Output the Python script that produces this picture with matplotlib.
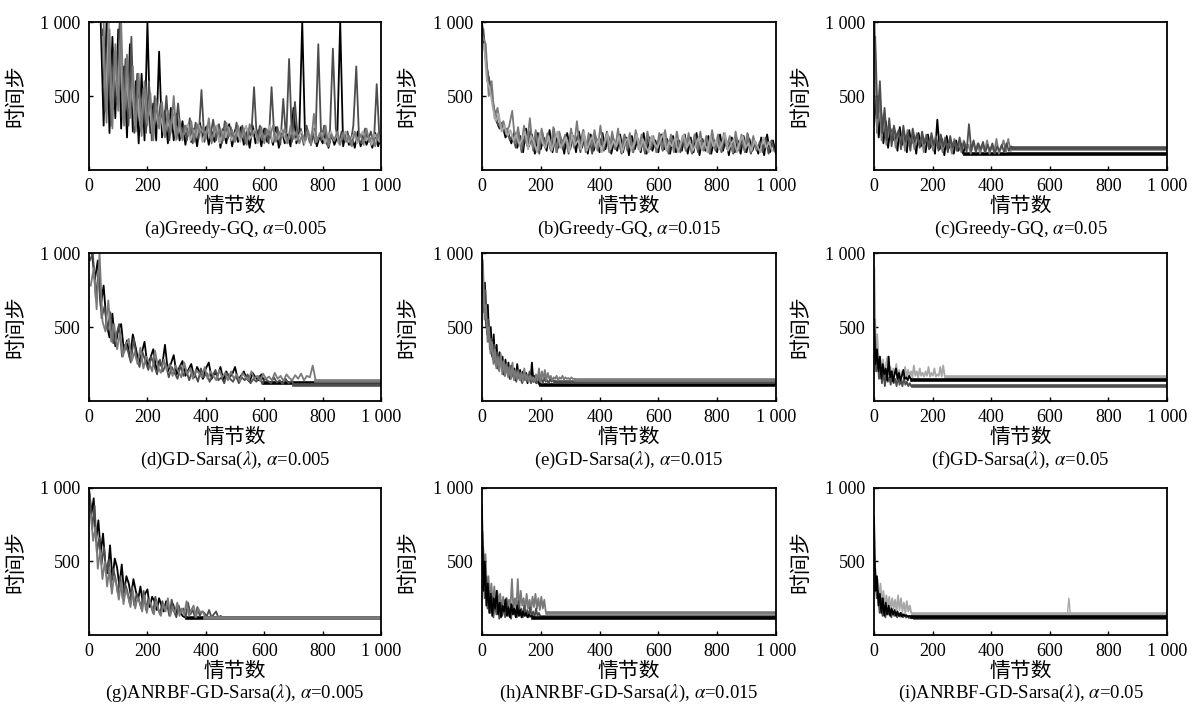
import numpy as np
import matplotlib
matplotlib.use("Agg")
import matplotlib.pyplot as plt

plt.rcParams['font.family'] = ['Liberation Serif', 'Noto Sans CJK SC']
plt.rcParams['mathtext.fontset'] = 'stix'

xticks = [0, 200, 400, 600, 800, 1000]
xtick_labels = ['0', '200', '400', '600', '800', '1 000']
yticks = [500, 1000]
ytick_labels = ['500', '1 000']
xlabel = '情节数'
ylabel = '时间步'
titles = ['(a)Greedy-GQ, $\\alpha$=0.005', '(b)Greedy-GQ, $\\alpha$=0.015', '(c)Greedy-GQ, $\\alpha$=0.05',
          '(d)GD-Sarsa($\\lambda$), $\\alpha$=0.005', '(e)GD-Sarsa($\\lambda$), $\\alpha$=0.015',
          '(f)GD-Sarsa($\\lambda$), $\\alpha$=0.05',
          '(g)ANRBF-GD-Sarsa($\\lambda$), $\\alpha$=0.005', '(h)ANRBF-GD-Sarsa($\\lambda$), $\\alpha$=0.015',
          '(i)ANRBF-GD-Sarsa($\\lambda$), $\\alpha$=0.05']

# (a) Greedy-GQ, alpha=0.005 -- time steps per episode
a_black = [1000, 300, 1000, 250, 900, 350, 950, 280, 700, 220, 850, 260, 600,
           180, 650, 200, 1000, 250, 450, 200, 800, 220, 400, 180, 420, 200, 380,
           200, 330, 170, 300, 190, 280, 160, 320, 200, 290, 170, 260, 190, 300, 150, 280, 180, 310, 160, 270,
           190, 290, 170, 260, 150, 300, 180, 270, 160, 280, 190, 250, 170, 290, 150, 270, 180, 240, 160, 420,
           180, 260, 1000, 200, 250, 170, 280, 160, 230, 180, 260, 150, 240, 170, 220, 1000, 160, 250, 170, 230,
           150, 260, 160, 240, 170, 220, 150, 250, 160, 230]
a_dark = [950, 400, 1000, 300, 800, 450, 1000, 350, 750, 300, 900, 250, 650,
          300, 550, 250, 600, 200, 500, 300, 450, 250, 500, 200, 400, 250, 450,
          220, 300, 200, 350, 180, 320, 210, 540, 190, 300, 220, 340, 200, 310, 180, 330, 210, 290, 190, 320,
          200, 300, 180, 280, 210, 560, 190, 300, 200, 280, 180, 560, 200, 290, 170, 480, 200, 750, 190, 460,
          200, 280, 170, 300, 190, 260, 180, 850, 200, 300, 170, 270, 820, 280, 180, 260, 200, 260, 170, 300,
          700, 190, 180, 280, 200, 260, 170, 580, 190]
a_gray = [1000, 320, 950, 280, 850, 400, 1000, 300, 780, 350, 700, 260,
          650, 230, 600, 300, 520, 200, 480, 280, 460, 220, 400, 250, 500, 210,
          340, 200, 300, 230, 330, 190, 310, 250, 290, 210, 350, 180, 300, 240, 280, 200, 320, 230, 270, 190,
          300, 220, 280, 170, 310, 240, 260, 200, 290, 180, 270, 230, 300, 190, 260, 220, 280, 180, 300, 210,
          260, 180, 240, 200, 270, 170, 380, 190, 250, 210, 300, 160, 240, 200, 260, 170, 250, 190, 230, 160,
          260, 200, 240, 170, 280, 190, 230, 160, 250, 180]
a_light = [900, 450, 1000, 380, 700, 500, 880, 330, 620, 420, 560, 300,
           480, 260, 540, 320, 420, 240, 390, 300, 350, 230, 330, 280, 360, 200,
           290, 220, 260, 310, 200, 270, 230, 300, 190, 250, 280, 210, 240, 300, 180, 260, 220, 290, 200, 240,
           270, 190, 250, 300, 210, 230, 280, 180, 260, 220, 240, 300, 190, 250, 210, 270, 230, 180, 260, 240,
           200, 230, 260, 180, 240, 210, 280, 190, 230, 250, 180, 220, 260, 200, 240, 170, 230, 260, 190, 210,
           250, 180, 230, 260, 200, 220, 170, 240, 210, 190]

# (b) Greedy-GQ, alpha=0.015
b_black = [1000, 800, 650, 560, 420, 330, 280, 300, 220, 250, 180,
           260, 150, 230, 120, 280, 160, 240, 110, 250, 140, 220, 130, 270, 120, 230, 150, 210, 110, 250, 140,
           230, 120, 260, 150, 220, 110, 240, 130, 210, 120, 250, 140, 230, 110, 200, 130, 240, 120, 220, 100,
           230, 140, 210, 120, 250, 110, 220, 130, 200, 120, 240, 140, 210, 110, 230, 120, 200, 130, 240, 110,
           220, 120, 250, 100, 210, 130, 230, 110, 200, 120, 240, 130, 210, 100, 220, 120, 200, 110, 230, 120,
           210, 130, 190, 110, 220, 100, 240, 120, 200, 110]
b_dark = [950, 700, 600, 480, 380, 300, 320, 260, 280, 200, 230,
          150, 250, 120, 220, 160, 270, 130, 240, 110, 260, 150, 220, 130, 280, 120, 240, 140, 210, 110, 250,
          160, 230, 120, 270, 140, 220, 110, 240, 150, 210, 130, 260, 120, 230, 140, 200, 110, 240, 130, 220,
          120, 250, 150, 210, 110, 230, 140, 200, 120, 240, 130, 210, 110, 220, 150, 200, 120, 230, 130, 210,
          110, 240, 120, 200, 140, 220, 110, 230, 130, 200, 120, 210, 140, 190, 110, 220, 130, 200, 120, 240,
          110, 210, 130, 190, 120, 220, 110, 200, 130]
b_gray = [900, 850, 500, 600, 350, 420, 280, 330, 250, 300, 400,
          180, 290, 140, 300, 170, 350, 150, 270, 130, 280, 160, 250, 140, 290, 120, 260, 170, 240, 130, 280,
          150, 330, 140, 260, 120, 250, 160, 270, 130, 300, 150, 240, 120, 260, 140, 280, 130, 230, 150, 250,
          120, 270, 140, 240, 130, 260, 150, 230, 120, 250, 140, 270, 130, 240, 120, 260, 150, 230, 130, 250,
          120, 240, 140, 260, 130, 230, 120, 270, 140, 240, 130, 250, 150, 230, 120, 260, 140, 240, 130, 250,
          120, 230, 140]
b_light = [850, 600, 550, 420, 330, 380, 260, 300, 230, 270, 200,
           240, 170, 210, 260, 140, 230, 190, 120, 250, 180, 150, 230, 130, 200, 260, 150, 180, 220, 120, 240,
           170, 200, 140, 260, 130, 190, 230, 150, 210, 120, 180, 250, 140, 200, 160, 230, 120, 190, 220, 140,
           170, 240, 130, 210, 160, 120, 230, 180, 150, 200, 250, 130, 190, 160, 220, 120, 180, 240, 150, 200,
           130, 170, 220, 140, 190, 120, 230, 160, 200, 140, 180, 250, 130, 170, 210, 120, 190, 230, 150, 180,
           130, 200, 160, 120, 220, 150, 190, 130]

# (c) Greedy-GQ, alpha=0.05
c_black = [300, 500, 220, 400, 180, 330, 150, 280, 200, 260, 130, 290, 170, 240, 120, 270, 180, 230, 110, 250,
           160, 220, 120, 240, 150, 200, 110, 340, 140, 210, 100, 230, 150, 190, 110, 200, 130, 180, 110, 170]
c_dark = [900, 350, 600, 250, 420, 200, 350, 160, 300, 220, 270, 140, 300, 190, 250, 130, 280, 200, 240, 150,
          260, 180, 230, 140, 250, 170, 220, 130, 240, 160, 210, 120, 230, 150, 200, 130, 220, 140, 190, 120,
          310, 130, 200, 120, 180, 140, 190, 120, 170, 130, 180, 110, 160, 130, 170, 120, 180, 130, 160, 150]
c_gray = [1000, 250, 500, 200, 380, 170, 300, 230, 280, 150, 260, 200, 240, 130, 270, 180, 230, 140, 250, 170,
          220, 120, 240, 160, 210, 130, 230, 150, 200, 120, 220, 140, 190, 110, 210, 130, 180, 120, 200, 140,
          170, 110, 190, 130, 180, 110, 170, 120, 200, 110, 160, 120, 210, 110, 150, 200, 120, 210, 130]

# (d) GD-Sarsa(lambda), alpha=0.005
d_black = [1000, 1000, 820, 950, 640, 780, 520, 430, 590, 370, 480, 520, 330, 410, 290, 450, 360, 260, 320, 400,
           240, 290, 350, 210, 270, 230, 380, 200, 250, 310, 180, 230, 270, 170, 210, 250, 160, 230, 190, 150,
           220, 260, 150, 190, 170, 230, 140, 200, 160, 180, 230, 140, 170, 200, 150, 130, 190, 160, 140, 180, 130]
d_dark = [950, 1000, 700, 880, 560, 640, 480, 600, 390, 440, 520, 300, 380, 340, 260, 420, 290, 230, 330, 270,
          210, 300, 240, 180, 280, 200, 250, 160, 230, 190, 150, 240, 170, 210, 140, 200, 180, 130, 220, 160,
          190, 130, 170, 210, 140, 160, 120, 190, 150, 130, 170, 120, 160, 140, 180, 120, 150, 130, 170, 115,
          150, 135, 120, 160, 125, 140, 115, 150, 120, 135, 110]
d_gray = [780, 900, 620, 1000, 540, 470, 680, 400, 520, 350, 460, 300, 380, 420, 270, 330, 250, 360, 220, 300,
          260, 200, 340, 230, 190, 280, 210, 250, 170, 240, 200, 160, 260, 180, 220, 150, 210, 190, 160, 230,
          150, 200, 170, 140, 210, 160, 190, 140, 200, 150, 180, 135, 190, 160, 140, 200, 150, 170, 135, 185,
          150, 165, 140, 190, 150, 170, 135, 180, 155, 140, 175, 150, 185, 140, 170, 160, 240, 140]

# (e) GD-Sarsa(lambda), alpha=0.015
e_black = [1000, 700, 800, 500, 650, 400, 500, 300, 450, 260, 380, 220, 330, 250, 300, 180, 280, 200, 260, 150,
           240, 170, 220, 140, 250, 160, 210, 130, 200, 150, 190, 120, 180, 140, 260, 130, 170, 120, 160, 110, 150]
e_dark = [950, 600, 750, 450, 550, 350, 420, 280, 380, 240, 330, 210, 300, 230, 270, 170, 250, 190, 230, 150,
          220, 160, 200, 130, 210, 150, 190, 120, 180, 140, 170, 130, 200, 120, 160, 130, 150, 120, 170, 130,
          150, 120, 160, 130, 140, 120, 150, 130, 140, 135]
e_gray = [900, 550, 650, 400, 500, 320, 400, 250, 350, 220, 300, 200, 320, 180, 270, 170, 250, 160, 230, 150,
          260, 140, 210, 150, 200, 140, 190, 130, 220, 140, 180, 130, 170, 140, 160, 130, 180, 140, 220, 130,
          200, 150, 210, 140, 190, 150, 170, 140, 160, 150, 170, 140, 160, 150, 170, 145, 160, 150, 155, 145,
          160, 150, 150, 145]

# (f) GD-Sarsa(lambda), alpha=0.05
f_black = [500, 250, 350, 200, 300, 150, 250, 180, 220, 140, 300, 160, 200, 130, 180, 220, 150, 190, 140, 170,
           210, 150, 160, 140, 170, 150, 140]
f_dark = [550, 200, 300, 150, 250, 120, 200, 100, 180, 130, 160, 110, 200, 120, 150, 100, 170, 110, 140, 100,
          160, 110, 130, 100, 120, 100, 100]
f_gray = [900, 350, 450, 250, 300, 200, 280, 150, 250, 300, 180, 230, 160, 220, 180, 250, 160, 210, 150, 200,
          170, 230, 160, 210, 170, 200, 160, 240, 170, 200, 160, 220, 170, 190, 165, 200, 170, 230, 165, 190,
          170, 220, 165, 180, 170, 230, 165, 240, 170, 160]

# (g) ANRBF-GD-Sarsa(lambda), alpha=0.005
g_black = [1000, 820, 930, 640, 780, 560, 690, 480, 420, 610, 380, 520, 460, 330, 480, 290, 400, 350, 260, 380,
           300, 240, 330, 220, 280, 310, 190, 260, 230, 170, 250, 200, 160, 230, 180, 150, 210, 140, 190, 160,
           130, 120, 115]
g_dark = [950, 720, 880, 560, 660, 480, 600, 420, 510, 330, 450, 380, 280, 400, 250, 350, 300, 220, 330, 200,
          280, 240, 180, 300, 170, 250, 210, 150, 260, 190, 140, 230, 170, 210, 130, 240, 160, 120, 200, 150,
          180, 120, 220, 140, 170, 120, 190, 130, 160, 150, 125, 170, 120, 140, 160, 118, 130, 115]
g_gray = [820, 640, 730, 450, 580, 380, 500, 330, 460, 280, 400, 340, 240, 360, 210, 310, 260, 190, 300, 180,
          250, 220, 160, 270, 150, 240, 200, 140, 230, 170, 130, 210, 160, 250, 130, 190, 150, 220, 130, 180,
          140, 230, 130, 170, 200, 120, 180, 150, 160, 118]

# (h) ANRBF-GD-Sarsa(lambda), alpha=0.015
h_black = [880, 300, 500, 200, 350, 150, 280, 130, 250, 180, 300, 140, 220, 120, 200, 160, 240, 130, 190, 120,
           210, 140, 180, 120, 200, 130, 170, 120, 160, 130, 150, 120, 140, 125, 130, 115]
h_dark = [600, 250, 400, 180, 300, 150, 260, 120, 230, 140, 200, 110, 220, 130, 190, 120, 250, 130, 180, 110,
          200, 140, 170, 120, 230, 130, 180, 120, 200, 130, 170, 120, 190, 130, 160, 120, 180, 130, 150, 125, 120]
h_gray = [700, 450, 550, 300, 400, 250, 350, 200, 330, 180, 300, 220, 280, 170, 260, 200, 250, 160, 240, 190,
          380, 170, 250, 180, 380, 160, 300, 200, 250, 170, 280, 180, 240, 170, 260, 190, 280, 180, 250, 170,
          260, 180, 240, 160, 150]

# (i) ANRBF-GD-Sarsa(lambda), alpha=0.05
i_black = [800, 300, 400, 200, 280, 150, 250, 130, 220, 140, 200, 130, 180, 140, 170, 130, 160, 130, 150, 125,
           140, 130, 135, 125, 130, 125, 125]
i_dark = [450, 250, 300, 150, 250, 130, 200, 120, 180, 140, 170, 120, 160, 130, 150, 120, 140, 125, 150, 120,
          140, 118, 130, 115, 120, 115, 115, 115]
i_gray = [500, 350, 380, 250, 350, 200, 300, 180, 270, 200, 260, 170, 250, 180, 240, 160, 270, 170, 250, 160,
          220, 150, 230, 160, 200, 150, 140]
i_spike_ep = [660, 665, 670]
i_spike_val = [140, 250, 140]

BLACK, DARK, GRAY, LIGHT = '#000000', '#4d4d4d', '#7a7a7a', '#a8a8a8'

# each entry: (values, first episode, episode step, converged level or None, colour)
panels = [
    [(a_black, 40, 10, None, BLACK), (a_dark, 45, 10, None, DARK), (a_light, 48, 10, None, LIGHT),
     (a_gray, 50, 10, None, GRAY)],
    [(b_black, 0, 10, None, BLACK), (b_dark, 5, 10, None, DARK), (b_gray, 3, 10, None, GRAY),
     (b_light, 7, 10, None, LIGHT)],
    [(c_black, 0, 8, 110, BLACK), (c_gray, 2, 8, 140, GRAY), (c_dark, 4, 8, 150, DARK)],
    [(d_black, 0, 10, 120, BLACK), (d_dark, 3, 10, 110, DARK), (d_gray, 6, 10, 135, GRAY)],
    [(e_black, 0, 5, 110, BLACK), (e_dark, 2, 5, 130, DARK), (e_gray, 4, 5, 145, GRAY)],
    [(f_gray, 1, 5, 160, LIGHT), (f_dark, 2, 5, 100, DARK), (f_black, 0, 5, 140, BLACK)],
    [(g_black, 0, 8, 115, BLACK), (g_dark, 3, 8, 115, DARK), (g_gray, 6, 8, 118, GRAY)],
    [(h_gray, 2, 5, 150, GRAY), (h_dark, 4, 5, 120, DARK), (h_black, 0, 5, 115, BLACK)],
    [(i_gray, 2, 5, 140, LIGHT), (i_dark, 4, 5, 115, DARK), (i_black, 0, 5, 125, BLACK)],
]

fig = plt.figure(figsize=(11.95, 7.06), dpi=100)
col_x = [0.0745, 0.4033, 0.7314]
col_w = [0.2444, 0.246, 0.2452]
row_y = [0.7592, 0.4320, 0.1006]
row_h = [0.2096, 0.2096, 0.2082]

for k, series in enumerate(panels):
    r, c = divmod(k, 3)
    ax = fig.add_axes([col_x[c], row_y[r], col_w[c], row_h[r]])
    for vals, start, step, tail, col in series:
        ep = start + step * np.arange(len(vals))
        ax.plot(ep, vals, color=col, lw=1.3)
        if tail is not None:
            ax.plot([ep[-1], 1000], [tail, tail], color=col, lw=2.6)
    if k == 8:
        ax.plot(i_spike_ep, i_spike_val, color=LIGHT, lw=1.0)
    ax.set_xlim(0, 1000)
    ax.set_ylim(0, 1000)
    ax.set_xticks(xticks)
    ax.set_xticklabels(xtick_labels)
    ax.set_yticks(yticks)
    ax.set_yticklabels(ytick_labels)
    ax.tick_params(direction='in', length=3, width=1, labelsize=13, pad=6)
    for s in ax.spines.values():
        s.set_linewidth(1.3)
    ax.set_xlabel(xlabel, fontsize=15, labelpad=2)
    ax.set_ylabel(ylabel, fontsize=15)
    ax.yaxis.set_label_coords(-0.215, 0.5)
    ax.text(0.5, -0.40, titles[k], transform=ax.transAxes, ha='center', va='center', fontsize=13.5)

fig.savefig('out.png', dpi=100)
